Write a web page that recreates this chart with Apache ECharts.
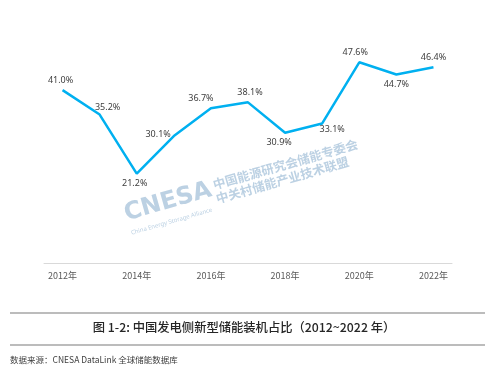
<!DOCTYPE html>
<html><head><meta charset="utf-8">
<script src="https://cdn.jsdelivr.net/npm/echarts@6/dist/echarts.min.js"></script>
<style>html,body{margin:0;padding:0;background:#fff}#c{width:493px;height:371px}</style>
</head><body><div id="c"></div>
<script>
const years = ['2012年','2013年','2014年','2015年','2016年','2017年','2018年','2019年','2020年','2021年','2022年'];
const shares = [41.0, 35.2, 21.2, 30.1, 36.7, 38.1, 30.9, 33.1, 47.6, 44.7, 46.4];
const captionText = '图 1-2: 中国发电侧新型储能装机占比（2012~2022 年）';
const sourceText = '数据来源：CNESA DataLink 全球储能数据库';

const labelStyles = [
  {position:'top', offset:[-2,0]},
  {position:'top', offset:[8,2]},
  {position:'bottom', offset:[-2,0]},
  {position:'left', offset:[2,-2]},
  {position:'top', offset:[-10,0]},
  {position:'top', offset:[2,0]},
  {position:'bottom', offset:[-6,0]},
  {position:'bottom', offset:[10,-4]},
  {position:'top', offset:[-4,0]},
  {position:'bottom', offset:[0,0]},
  {position:'top', offset:[0,0]}
];
const seriesData = shares.map((v,i)=>({value:v, label:labelStyles[i]}));

const chart = echarts.init(document.getElementById('c'));
const rot = 16*Math.PI/180;
const wm = '#bcd1e3';
chart.setOption({
  animation:false,
  grid:{left:44,right:41,top:10,bottom:108},
  xAxis:{type:'category',data:years,boundaryGap:true,
    axisLine:{lineStyle:{color:'#d9d9d9',width:1}},
    axisTick:{show:false},
    axisLabel:{interval:1,color:'#595959',fontSize:9,fontFamily:'Noto Sans CJK SC',margin:8}},
  yAxis:{type:'value',min:0,max:60,show:false,splitLine:{show:false}},
  series:[{type:'line',data:seriesData,symbol:'circle',symbolSize:0.1,showSymbol:true,
    itemStyle:{color:'#00b0f0'},
    lineStyle:{color:'#00b0f0',width:2.5},
    label:{show:true,formatter:p=>p.value.toFixed(1)+'%',color:'#404040',fontSize:9,fontFamily:'Noto Sans'}}],
  graphic:[
    {type:'text',x:128,y:226,rotation:rot,z:-1,style:{text:'CNESA',fill:wm,font:'bold 24px "DejaVu Sans"',verticalAlign:'bottom'}},
    {type:'text',x:132,y:236,rotation:rot,z:-1,style:{text:'China Energy Storage Alliance',fill:wm,font:'6px "Noto Sans"',verticalAlign:'bottom'}},
    {type:'text',x:215,y:191,rotation:rot,z:-1,style:{text:'中国能源研究会储能专委会',fill:wm,font:'bold 12.5px "Noto Sans CJK SC"',verticalAlign:'bottom'}},
    {type:'text',x:218,y:205,rotation:rot,z:-1,style:{text:'中关村储能产业技术联盟',fill:wm,font:'bold 12.5px "Noto Sans CJK SC"',verticalAlign:'bottom'}},
    {type:'line',shape:{x1:10,y1:313,x2:485,y2:313},style:{stroke:'#a6a6a6',lineWidth:1.5}},
    {type:'text',x:244,y:327,style:{text:captionText,fill:'#262626',font:'500 12.3px "Noto Sans CJK SC"',align:'center',verticalAlign:'middle'}},
    {type:'line',shape:{x1:10,y1:345,x2:485,y2:345},style:{stroke:'#a6a6a6',lineWidth:1.5}},
    {type:'text',x:10,y:360,style:{text:sourceText,fill:'#404040',font:'8.5px "Noto Sans CJK SC"',verticalAlign:'middle'}}
  ]
});
</script></body></html>
